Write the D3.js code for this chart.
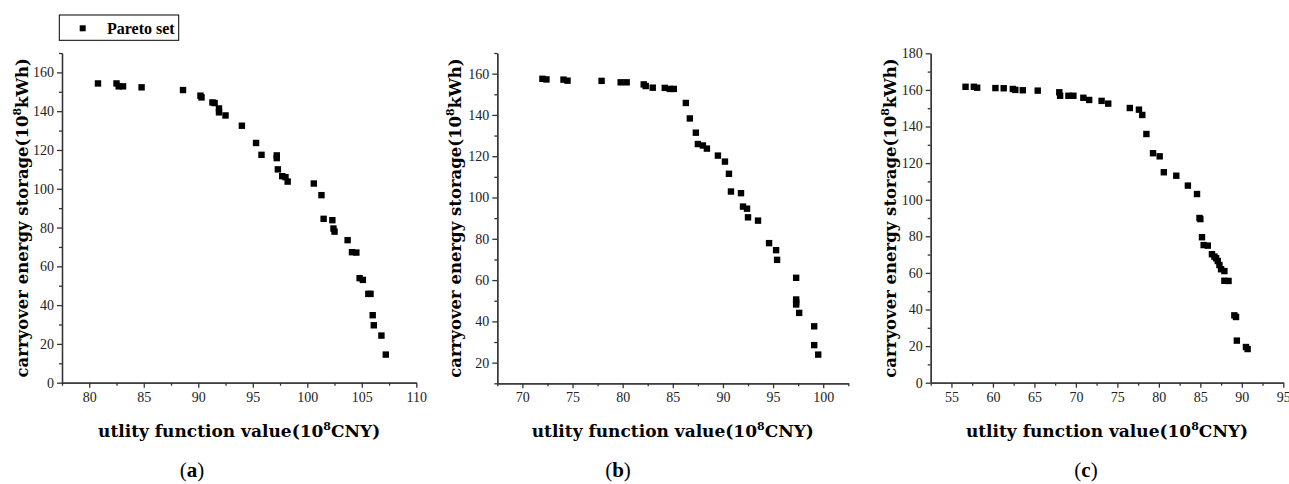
<!DOCTYPE html>
<html>
<head>
<meta charset="utf-8">
<script src="https://cdn.jsdelivr.net/npm/d3@7"></script>
<style>
  body { margin: 0; background: #fff; }
  .tick text { font-family: "Liberation Serif", serif; font-size: 14px; fill: #222; }
  .axis path, .axis line { stroke: #333; stroke-width: 1.3px; }
  .lbl { font-family: "DejaVu Serif", serif; font-weight: bold; font-size: 17px; fill: #000; }
</style>
</head>
<body>
<svg width="1289" height="484"></svg>
<script>
// panel (a) Pareto set
var utilityA = [80.8, 82.5, 82.7, 83.1, 84.8, 88.6, 90.2, 90.3, 91.3, 91.5, 91.9, 91.9, 92.5, 94.0, 95.3, 95.8,
  97.2, 97.2, 97.3, 97.7, 98.0, 98.2, 100.6, 101.3, 101.5, 102.3, 102.4, 102.5, 103.7, 104.1, 104.5,
  104.8, 105.1, 105.6, 105.8, 106.0, 106.1, 106.8, 107.2];
var storageA = [154.3, 154.3, 152.8, 152.8, 152.3, 150.9, 148.0, 147.1, 144.5, 144.2, 141.4, 139.4, 137.8, 132.5, 123.6, 117.5,
  117.2, 115.8, 110.0, 106.5, 106.0, 103.7, 102.7, 96.7, 84.5, 83.8, 79.5, 77.9, 73.5, 67.3, 67.1,
  53.9, 53.0, 45.8, 45.8, 34.8, 29.6, 24.3, 14.5];

// panel (b)
var utilityB = [72.0, 72.4, 74.1, 74.5, 77.9, 79.8, 80.4, 82.1, 82.3, 83.0, 84.2, 84.7, 85.1, 86.3, 86.7, 87.3,
  87.5, 88.0, 88.4, 89.5, 90.2, 90.6, 90.8, 91.8, 92.0, 92.4, 92.5, 93.5, 94.6, 95.3, 95.4, 97.3,
  97.3, 97.3, 97.3, 97.6, 99.1, 99.1, 99.5];
var storageB = [157.5, 157.2, 157.1, 156.6, 156.5, 155.8, 155.8, 154.8, 154.0, 153.2, 153.1, 152.6, 152.6, 145.8, 138.3, 131.4,
  125.9, 125.2, 123.7, 120.3, 117.4, 111.5, 102.9, 102.1, 95.6, 94.6, 90.4, 88.8, 77.9, 74.5, 69.8, 61.1,
  50.6, 49.3, 48.2, 44.1, 37.6, 28.5, 23.9];

// panel (c)
var utilityC = [56.7, 57.7, 58.1, 60.3, 61.3, 62.4, 62.7, 63.6, 65.4, 68.0, 68.1, 69.1, 69.7, 70.9, 71.6, 73.1,
  73.9, 76.5, 77.6, 78.0, 78.5, 79.3, 80.1, 80.6, 82.1, 83.5, 84.6, 84.9, 85.0, 85.2, 85.4, 85.9,
  86.4, 86.7, 86.9, 87.1, 87.3, 87.5, 87.9, 87.9, 88.4, 89.1, 89.3, 89.4, 90.5, 90.7];
var storageC = [161.7, 161.7, 161.2, 161.0, 160.9, 160.5, 160.0, 159.8, 159.6, 158.7, 156.8, 156.8, 156.8, 155.7, 154.5, 154.0,
  152.5, 150.1, 149.2, 146.3, 135.9, 125.4, 123.7, 115.0, 113.1, 107.7, 103.1, 90.0, 89.4, 79.5, 75.2, 74.9,
  70.2, 68.9, 68.0, 66.5, 64.3, 62.0, 61.0, 55.7, 55.6, 36.8, 35.9, 23.0, 19.5, 18.4];

// axis ranges and ticks
var xDomains = [[77.5, 110], [67.5, 102.5], [52.5, 95]];
var yDomains = [[0, 170], [10, 170], [0, 180]];
var xTicks = [d3.range(80, 111, 5), d3.range(70, 101, 5), d3.range(55, 96, 5)];
var yTicks = [d3.range(0, 161, 20), d3.range(20, 161, 20), d3.range(0, 181, 20)];
var panelNames = ["a", "b", "c"];
var legendLabel = "Pareto set";

var svg = d3.select("svg");

var panels = [
  {x: utilityA, y: storageA, left: 62, right: 416.3, top: 53, bottom: 382.7, ylab: 22, tag: 192},
  {x: utilityB, y: storageB, left: 497.3, right: 848.3, top: 53, bottom: 383.3, ylab: 455, tag: 618},
  {x: utilityC, y: storageC, left: 930.7, right: 1283.3, top: 53.3, bottom: 382.7, ylab: 890, tag: 1086}
];

panels.forEach(function(p, i) {
  var x = d3.scaleLinear().domain(xDomains[i]).range([p.left, p.right]);
  var y = d3.scaleLinear().domain(yDomains[i]).range([p.bottom, p.top]);

  var xMinor = d3.range(xDomains[i][0], xDomains[i][1] + 0.01, 2.5).filter(function(v) { return v % 5 != 0; });
  var yMinor = d3.range(yDomains[i][0], yDomains[i][1] + 0.01, 10).filter(function(v) { return v % 20 != 0; });

  // minor ticks
  svg.append("g").attr("class", "axis")
    .attr("transform", "translate(0," + p.bottom + ")")
    .call(d3.axisBottom(x).tickValues(xMinor).tickSize(3).tickSizeOuter(0).tickFormat(""));
  svg.append("g").attr("class", "axis")
    .attr("transform", "translate(" + p.left + ",0)")
    .call(d3.axisLeft(y).tickValues(yMinor).tickSize(3).tickSizeOuter(0).tickFormat(""));

  // major ticks
  svg.append("g").attr("class", "axis")
    .attr("transform", "translate(0," + p.bottom + ")")
    .call(d3.axisBottom(x).tickValues(xTicks[i]).tickSize(5).tickSizeOuter(0).tickPadding(4));
  svg.append("g").attr("class", "axis")
    .attr("transform", "translate(" + p.left + ",0)")
    .call(d3.axisLeft(y).tickValues(yTicks[i]).tickSize(5).tickSizeOuter(0).tickPadding(3));

  // points
  svg.append("g").selectAll("rect")
    .data(p.x.map(function(d, k) { return [d, p.y[k]]; }))
    .enter().append("rect")
    .attr("x", function(d) { return x(d[0]) - 3.2; })
    .attr("y", function(d) { return y(d[1]) - 3.2; })
    .attr("width", 6.4).attr("height", 6.4)
    .attr("fill", "#000");

  // axis titles
  var cx = (p.left + p.right) / 2;
  var xl = svg.append("text").attr("class", "lbl")
    .attr("x", cx).attr("y", 437).attr("text-anchor", "middle");
  xl.append("tspan").text("utlity function value(10");
  xl.append("tspan").attr("dy", -7).attr("font-size", "11px").text("8");
  xl.append("tspan").attr("dy", 7).text("CNY)");

  var cy = (p.top + p.bottom) / 2;
  var yl = svg.append("text").attr("class", "lbl")
    .attr("transform", "translate(" + (p.ylab + 6) + "," + cy + ") rotate(-90)")
    .attr("text-anchor", "middle").style("font-size", "16.5px");
  yl.append("tspan").text("carryover energy storage(10");
  yl.append("tspan").attr("dy", -7).attr("font-size", "11px").text("8");
  yl.append("tspan").attr("dy", 7).text("kWh)");

  // panel tag
  var tg = svg.append("text")
    .attr("x", p.tag).attr("y", 477).attr("text-anchor", "middle")
    .style("font-family", "Liberation Serif, serif").style("font-size", "21px");
  tg.append("tspan").text("(");
  tg.append("tspan").attr("font-weight", "bold").text(panelNames[i]);
  tg.append("tspan").text(")");
});

// legend
var lg = svg.append("g");
lg.append("rect").attr("x", 59.3).attr("y", 15).attr("width", 119.4).attr("height", 25.3)
  .attr("fill", "none").attr("stroke", "#000").attr("stroke-width", 1);
lg.append("rect").attr("x", 82.7 - 3).attr("y", 28.3 - 3).attr("width", 6).attr("height", 6).attr("fill", "#000");
lg.append("text").attr("x", 107).attr("y", 33.5)
  .style("font-family", "Liberation Serif, serif").style("font-weight", "bold").style("font-size", "16px")
  .text(legendLabel);
</script>
</body>
</html>
